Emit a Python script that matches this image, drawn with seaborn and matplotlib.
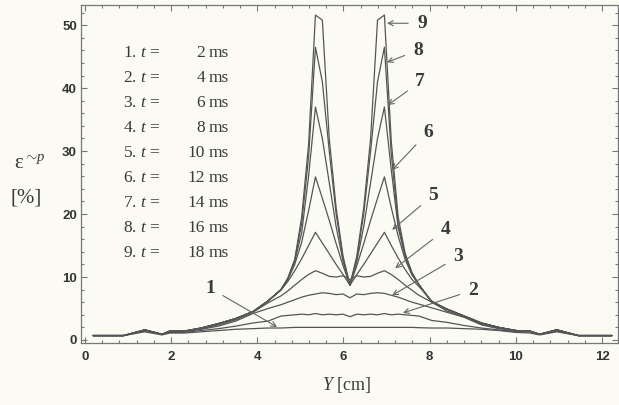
import numpy as np
import pandas as pd
import matplotlib
matplotlib.use("Agg")
import matplotlib.pyplot as plt
import seaborn as sns
from matplotlib.ticker import MultipleLocator

# ---------------- data ----------------
y_cm = [0.19, 0.9, 1.39, 1.79, 1.97, 2.3, 2.7, 3.1, 3.5, 3.9, 4.25, 4.55, 4.71, 4.87,
        5.03, 5.19, 5.35, 5.51, 5.67, 5.83, 5.99, 6.15, 6.31, 6.47, 6.63, 6.79, 6.95,
        7.11, 7.27, 7.43, 7.59, 7.75, 8.05, 8.4, 8.8, 9.2, 9.6, 10.0, 10.33, 10.55,
        10.95, 11.45, 12.23]

eps_t02 = [0.7, 0.7, 1.3, 0.8, 1.1, 1.1, 1.3, 1.5, 1.7, 1.8, 1.9, 1.9, 1.95, 2.0,
           2.0, 2.0, 2.0, 2.0, 2.0, 2.0, 2.0, 2.0, 2.0, 2.0, 2.0, 2.0, 2.0,
           2.0, 2.0, 2.0, 2.0, 1.95, 1.9, 1.9, 1.8, 1.7, 1.5, 1.2, 1.1, 0.8,
           1.3, 0.7, 0.7]
eps_t04 = [0.7, 0.7, 1.4, 0.9, 1.2, 1.2, 1.5, 1.8, 2.2, 2.7, 3.0, 3.8, 3.9, 4.0,
           4.1, 4.0, 4.2, 4.0, 4.1, 4.0, 4.1, 3.7, 4.1, 4.0, 4.1, 4.0, 4.2,
           4.0, 4.1, 4.0, 3.9, 3.8, 3.1, 2.8, 2.3, 1.9, 1.6, 1.3, 1.3, 0.9,
           1.4, 0.7, 0.7]
eps_t06 = [0.7, 0.7, 1.6, 0.9, 1.4, 1.3, 1.7, 2.2, 3.0, 4.2, 5.0, 5.6, 6.0, 6.4,
           6.8, 7.1, 7.3, 7.5, 7.4, 7.2, 7.3, 6.7, 7.3, 7.2, 7.4, 7.5, 7.4,
           7.1, 6.8, 6.4, 6.0, 5.7, 5.1, 4.4, 3.6, 2.4, 1.8, 1.4, 1.4, 0.9,
           1.6, 0.7, 0.7]
eps_t08 = [0.7, 0.7, 1.6, 0.9, 1.4, 1.4, 1.8, 2.4, 3.2, 4.4, 5.9, 7.0, 7.8, 8.7,
           9.6, 10.4, 11.0, 10.6, 10.1, 10.0, 10.2, 9.6, 10.2, 10.0, 10.1, 10.6, 11.0,
           10.4, 9.6, 8.7, 7.9, 7.1, 6.0, 4.6, 3.7, 2.5, 1.9, 1.4, 1.4, 0.9,
           1.6, 0.7, 0.7]
eps_t10 = [0.7, 0.7, 1.6, 0.9, 1.4, 1.4, 1.9, 2.6, 3.4, 4.5, 6.2, 7.9, 9.3, 11.0,
           12.9, 15.0, 17.1, 15.4, 13.7, 12.0, 10.4, 8.7, 10.4, 12.0, 13.7, 15.4, 17.1,
           15.0, 13.0, 11.2, 9.6, 8.5, 6.2, 4.9, 3.8, 2.7, 2.0, 1.5, 1.4, 0.9,
           1.6, 0.7, 0.7]
eps_t12 = [0.7, 0.7, 1.6, 0.9, 1.4, 1.4, 1.9, 2.6, 3.4, 4.5, 6.2, 8.0, 9.6, 12.0,
           15.5, 20.5, 25.9, 22.5, 19.0, 15.3, 11.8, 8.7, 11.8, 15.3, 19.0, 22.5, 25.9,
           21.0, 16.5, 12.8, 10.3, 8.8, 6.0, 4.9, 3.8, 2.7, 2.0, 1.5, 1.4, 0.9,
           1.6, 0.7, 0.7]
eps_t14 = [0.7, 0.7, 1.6, 0.9, 1.4, 1.4, 1.9, 2.6, 3.4, 4.5, 6.2, 8.0, 9.7, 12.5,
           17.0, 26.0, 37.0, 32.0, 25.0, 18.0, 12.5, 8.7, 12.5, 18.0, 25.0, 32.0, 37.0,
           27.0, 17.8, 13.3, 10.5, 8.8, 6.0, 4.9, 3.8, 2.7, 2.0, 1.5, 1.4, 0.9,
           1.6, 0.7, 0.7]
eps_t16 = [0.7, 0.7, 1.6, 0.9, 1.4, 1.4, 1.9, 2.6, 3.4, 4.5, 6.2, 8.0, 9.8, 12.7,
           18.5, 29.0, 46.5, 41.0, 30.0, 20.0, 13.0, 8.7, 13.0, 20.0, 30.0, 41.0, 46.5,
           29.5, 18.5, 13.5, 10.6, 8.8, 6.0, 4.9, 3.8, 2.7, 2.0, 1.5, 1.4, 0.9,
           1.6, 0.7, 0.7]
eps_t18 = [0.7, 0.7, 1.6, 0.9, 1.4, 1.4, 1.9, 2.6, 3.4, 4.5, 6.2, 8.0, 9.8, 12.8,
           19.5, 31.0, 51.6, 50.8, 32.0, 21.0, 13.3, 8.7, 13.3, 21.0, 32.0, 50.8, 51.6,
           31.5, 19.5, 13.8, 10.7, 8.8, 6.0, 4.9, 3.8, 2.7, 2.0, 1.5, 1.4, 0.9,
           1.6, 0.7, 0.7]

times_ms = [2, 4, 6, 8, 10, 12, 14, 16, 18]
series = [eps_t02, eps_t04, eps_t06, eps_t08, eps_t10, eps_t12, eps_t14, eps_t16, eps_t18]
curve_ids = ["1", "2", "3", "4", "5", "6", "7", "8", "9"]

# label positions (text) and arrow tips for curve numbers
label_xy = [(2.90, 8.25), (9.01, 7.9), (8.66, 13.2), (8.36, 17.5), (8.08, 23.0),
            (7.96, 33.0), (7.78, 41.0), (7.73, 46.0), (7.82, 50.3)]
tip_xy = [(4.46, 2.06), (7.38, 4.3), (7.13, 7.1), (7.20, 11.4), (7.13, 17.5),
          (7.13, 27.0), (7.03, 37.3), (7.01, 44.1), (7.01, 50.3)]

# ---------------- styling ----------------
sns.set_style("ticks")
plt.rcParams["font.family"] = ["Liberation Serif", "DejaVu Serif"]
plt.rcParams["mathtext.fontset"] = "custom"
plt.rcParams["mathtext.rm"] = "Liberation Serif"
plt.rcParams["mathtext.it"] = "Liberation Serif:italic"
plt.rcParams["mathtext.bf"] = "Liberation Serif:bold"

BG = "#fbfbf4"
LINE = "#555555"
INK = "#3a3a3a"

fig = plt.figure(figsize=(6.19, 4.05), dpi=100, facecolor=BG)
ax = fig.add_axes([81 / 619, 62 / 405, (618 - 81) / 619, (343 - 5) / 405])
ax.set_facecolor(BG)

rows = []
for cid, vals in zip(curve_ids, series):
    for xv, yv in zip(y_cm, vals):
        rows.append({"Y": xv, "eps": yv, "curve": cid})
df = pd.DataFrame(rows)

sns.lineplot(data=df, x="Y", y="eps", hue="curve", units="curve", estimator=None,
             sort=False, palette=[LINE] * len(curve_ids), linewidth=0.9,
             legend=False, ax=ax)

ax.set_xlim(-0.09, 12.37)
ax.set_ylim(-0.48, 53.2)
ax.xaxis.set_major_locator(MultipleLocator(2))
ax.xaxis.set_minor_locator(MultipleLocator(0.4))
ax.yaxis.set_major_locator(MultipleLocator(10))
ax.yaxis.set_minor_locator(MultipleLocator(2))
ax.tick_params(which="both", direction="in", top=True, right=True, color="#777777",
               width=0.8)
ax.tick_params(which="major", length=4, pad=6)
ax.tick_params(which="minor", length=2.5)
for lab in ax.get_xticklabels() + ax.get_yticklabels():
    lab.set_fontfamily("Liberation Sans")
    lab.set_fontweight("bold")
    lab.set_fontsize(9.5)
    lab.set_color("#333333")
ax.tick_params(axis="y", pad=3)
for sp in ax.spines.values():
    sp.set_color("#777777")
    sp.set_linewidth(0.9)
ax.set_xlabel("")
ax.set_ylabel("")

# legend-like text block
y0, dy = 45.6, 3.98
for i, (cid, t) in enumerate(zip(curve_ids, times_ms)):
    yy = y0 - i * dy
    ax.text(0.88, yy, f"{cid}. $t$ =", fontsize=12.5, color=INK, va="center", ha="left")
    ax.text(2.79, yy, f"{t}", fontsize=12.5, color=INK, va="center", ha="right")
    ax.text(2.88, yy, "ms", fontsize=12.5, color=INK, va="center", ha="left")

# curve number labels with arrows
for cid, (lx, ly), (tx, ty) in zip(curve_ids, label_xy, tip_xy):
    ax.annotate(cid, xy=(tx, ty), xytext=(lx, ly), fontsize=14, fontweight="bold",
                color=INK, ha="center", va="center",
                arrowprops=dict(arrowstyle="->", color="#666666", lw=0.8,
                                shrinkA=4, shrinkB=0, mutation_scale=9))

# axis labels
fig.text(347 / 619, 1 - 385 / 405, "$Y$ [cm]", fontsize=13, color=INK,
         ha="center", va="center")
fig.text(30 / 619, 1 - 163 / 405, r"ε$^{\sim\!p}$", fontsize=15, color=INK,
         ha="center", va="center")
fig.text(26 / 619, 1 - 198 / 405, "[%]", fontsize=15, color=INK,
         ha="center", va="center")

fig.savefig("out.png", dpi=100, facecolor=BG)
